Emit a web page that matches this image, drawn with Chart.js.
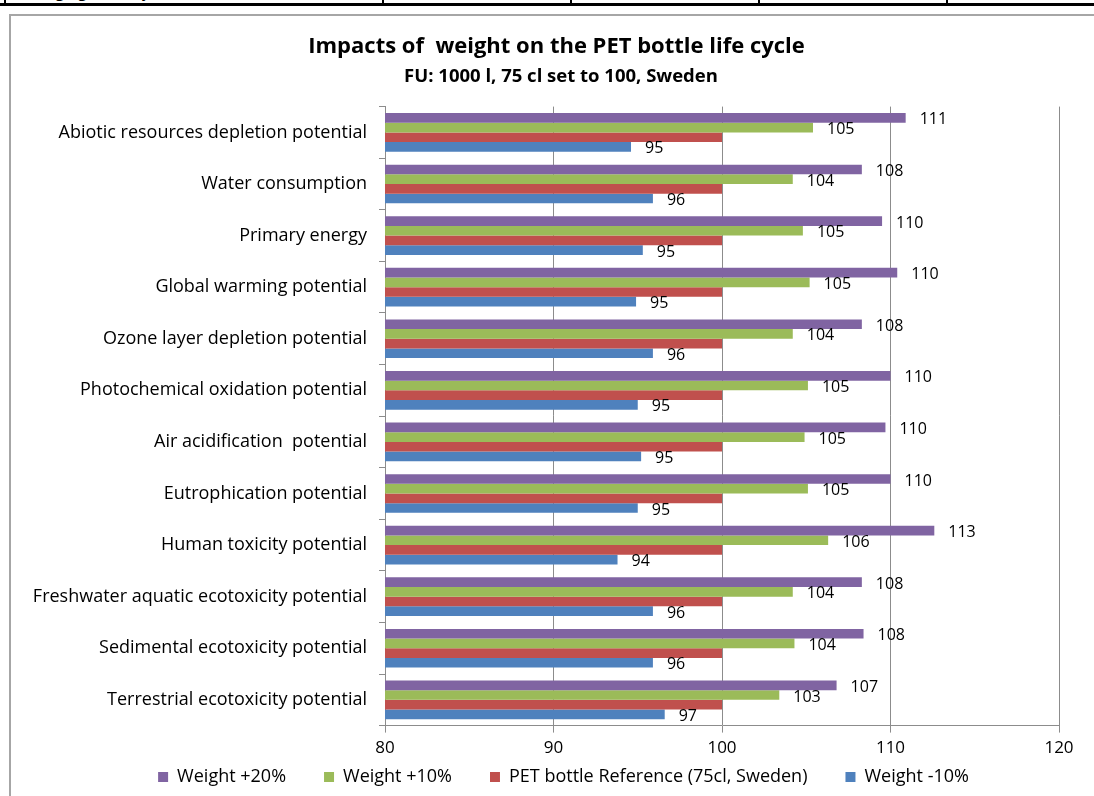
<!DOCTYPE html>
<html>
<head>
<meta charset="utf-8">
<script src="https://cdn.jsdelivr.net/npm/chart.js@4/dist/chart.umd.min.js"></script>
<style>
  body { margin: 0; background: #fff; overflow: hidden; width: 1094px; height: 796px; position: relative; }
  .row { position: absolute; left: 0; top: -20px; height: 23px; width: 1094px; border-bottom: 3px solid #000; }
  .cell { position: absolute; top: 0; height: 23px; border-left: 2px solid #000; overflow: hidden;
          font: 16px "Open Sans", Arial, sans-serif; line-height: 23px; padding-left: 6px; box-sizing: border-box; }
  .box { position: absolute; left: 9px; top: 14px; width: 1120px; height: 820px; border: 2px solid #a6a6a6; box-sizing: border-box; }
  #wrap { position: absolute; left: 10px; top: 16px; width: 1095px; height: 780px; }
</style>
</head>
<body>
<div class="row">
  <div class="cell" style="left:4px;width:378px">Packaging (tertiary level)</div>
  <div class="cell" style="left:382px;width:188px"></div>
  <div class="cell" style="left:570px;width:188px"></div>
  <div class="cell" style="left:758px;width:188px"></div>
  <div class="cell" style="left:946px;width:188px"></div>
</div>
<div class="box"></div>
<div id="wrap"><canvas id="chart"></canvas></div>
<script>
const categories = [
  "Abiotic resources depletion potential",
  "Water consumption",
  "Primary energy",
  "Global warming potential",
  "Ozone layer depletion potential",
  "Photochemical oxidation potential",
  "Air acidification  potential",
  "Eutrophication potential",
  "Human toxicity potential",
  "Freshwater aquatic ecotoxicity potential",
  "Sedimental ecotoxicity potential",
  "Terrestrial ecotoxicity potential"
];
const plus20 = [110.9, 108.3, 109.5, 110.4, 108.3, 110.0, 109.7, 110.0, 112.6, 108.3, 108.4, 106.8];
const plus10 = [105.4, 104.2, 104.8, 105.2, 104.2, 105.1, 104.9, 105.1, 106.3, 104.2, 104.3, 103.4];
const reference = [100, 100, 100, 100, 100, 100, 100, 100, 100, 100, 100, 100];
const minus10 = [94.6, 95.9, 95.3, 94.9, 95.9, 95.0, 95.2, 95.0, 93.8, 95.9, 95.9, 96.6];
const xTicks = [80, 90, 100, 110, 120];

const FONT = '"Open Sans", Arial, sans-serif';
const SUBTITLE = 'FU: 1000 l, 75 cl set to 100, Sweden';

// value labels at the end of each bar (the reference series has none)
const barLabels = {
  id: 'barLabels',
  afterDatasetsDraw(chart) {
    const ctx = chart.ctx;
    ctx.save();
    ctx.font = '16px ' + FONT;
    ctx.fillStyle = '#000';
    ctx.textAlign = 'left';
    ctx.textBaseline = 'middle';
    chart.data.datasets.forEach((ds, i) => {
      if (ds.noLabel) return;
      chart.getDatasetMeta(i).data.forEach((bar, j) => {
        ctx.fillText(Math.round(ds.data[j]), bar.x + 14, bar.y + 2);
      });
    });
    ctx.restore();
  }
};

// nudge title, subtitle and legend: centred on the whole chart, legend closer to the axis
const boxShift = {
  id: 'boxShift',
  afterLayout(chart) {
    chart.boxes.forEach(b => {
      if (b === chart.titleBlock) b.left += 44;
      else if (b === chart.legend) {
        b.left += 58;
        b.top -= 33;
        b.bottom -= 33;
      } else if (b.options && b.options.text === SUBTITLE) b.left += 53;
    });
  }
};

new Chart(document.getElementById('chart'), {
  type: 'bar',
  data: {
    labels: categories,
    datasets: [
      { label: 'Weight +20%', data: plus20, backgroundColor: '#8064A2' },
      { label: 'Weight +10%', data: plus10, backgroundColor: '#9BBB59' },
      { label: 'PET bottle Reference (75cl, Sweden)', data: reference, backgroundColor: '#C0504D', noLabel: true },
      { label: 'Weight -10%', data: minus10, backgroundColor: '#4F81BD' }
    ]
  },
  options: {
    indexAxis: 'y',
    responsive: true,
    maintainAspectRatio: false,
    animation: false,
    layout: { padding: { top: 18, right: 46, bottom: -33, left: 0 } },
    datasets: { bar: { barPercentage: 1, categoryPercentage: 0.75 } },
    plugins: {
      title: {
        display: true,
        text: 'Impacts of  weight on the PET bottle life cycle',
        color: '#000',
        font: { family: FONT, size: 22, weight: 'bold' },
        padding: { top: 0, bottom: 5 }
      },
      subtitle: {
        display: true,
        text: SUBTITLE,
        color: '#000',
        font: { family: FONT, size: 18.5, weight: 'bold' },
        padding: { top: 0, bottom: 19 }
      },
      legend: {
        position: 'bottom',
        labels: {
          color: '#000',
          font: { family: FONT, size: 18 },
          boxWidth: 10,
          boxHeight: 10,
          padding: 38
        }
      },
      tooltip: { enabled: false }
    },
    scales: {
      x: {
        min: 80,
        max: 120,
        afterBuildTicks(scale) { scale.ticks = xTicks.map(v => ({ value: v })); },
        grid: { color: '#8c8c8c', lineWidth: 1, tickLength: 7 },
        border: { color: '#8c8c8c' },
        ticks: { color: '#000', font: { family: FONT, size: 17 }, padding: 5 }
      },
      y: {
        afterFit(scale) { scale.width = 375; },
        grid: { offset: true, drawOnChartArea: false, color: '#8c8c8c', tickLength: 6 },
        border: { color: '#8c8c8c' },
        ticks: { color: '#000', font: { family: FONT, size: 18 }, padding: 12 }
      }
    }
  },
  plugins: [barLabels, boxShift]
});
</script>
</body>
</html>
